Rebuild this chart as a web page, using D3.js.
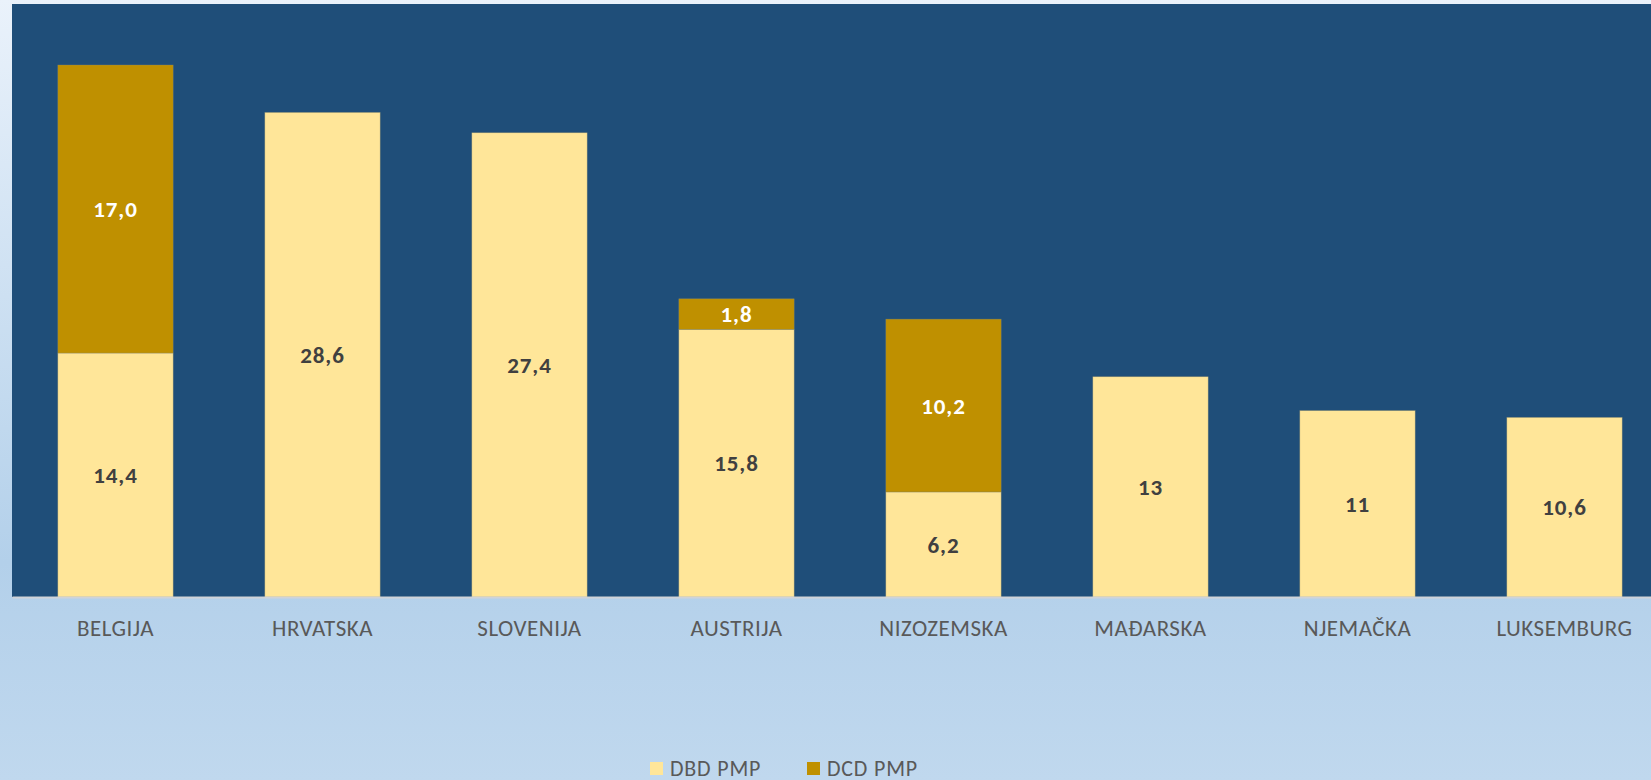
<!DOCTYPE html>
<html>
<head>
<meta charset="utf-8">
<script src="https://cdn.jsdelivr.net/npm/d3@7"></script>
<style>
  html, body { margin: 0; padding: 0; overflow: hidden; }
  svg { display: block; }
</style>
</head>
<body>
<div class="chart"></div>
<script>
// data
let categories = ["BELGIJA", "HRVATSKA", "SLOVENIJA", "AUSTRIJA", "NIZOZEMSKA", "MAĐARSKA", "NJEMAČKA", "LUKSEMBURG"]
let dbdValues = [14.4, 28.6, 27.4, 15.8, 6.2, 13, 11, 10.6]
let dcdValues = [17.0, 0, 0, 1.8, 10.2, 0, 0, 0]
let dbdLabels = ["14,4", "28,6", "27,4", "15,8", "6,2", "13", "11", "10,6"]
let dcdLabels = ["17,0", "", "", "1,8", "10,2", "", "", ""]
let seriesNames = ["DBD PMP", "DCD PMP"]
let seriesColors = ["#FFE699", "#BF9000"]

let W = 1651, H = 780
let plot = { left: 12, top: 4, bottom: 597, right: 1668 }
let font = "Calibri, Carlito, Lato, sans-serif"

let svg = d3.select(".chart")
    .append("svg")
    .attr("width", W)
    .attr("height", H)

// background gradient
let defs = svg.append("defs")
let grad = defs.append("linearGradient")
    .attr("id", "bg")
    .attr("x1", 0).attr("y1", 0).attr("x2", 0).attr("y2", 1)
grad.append("stop").attr("offset", "0%").attr("stop-color", "#eaf2fb")
grad.append("stop").attr("offset", "72%").attr("stop-color", "#b3d0ea")
grad.append("stop").attr("offset", "100%").attr("stop-color", "#c0d8ee")

svg.append("rect")
    .attr("width", W)
    .attr("height", H)
    .attr("fill", "url(#bg)")

// plot area
svg.append("rect")
    .attr("x", plot.left)
    .attr("y", plot.top)
    .attr("width", plot.right - plot.left)
    .attr("height", plot.bottom - plot.top)
    .attr("fill", "#1F4E79")

//scales
let x = d3.scaleBand()
    .domain(categories)
    .range([plot.left, plot.right])
    .paddingInner(0.443)
    .paddingOuter(0.2215)

let y = d3.scaleLinear()
    .domain([0, 35])
    .range([plot.bottom, plot.top])

let rows = categories.map((c, i) => ({
    cat: c, dbd: dbdValues[i], dcd: dcdValues[i],
    dbdLabel: dbdLabels[i], dcdLabel: dcdLabels[i]
}))

let stack = d3.stack().keys(["dbd", "dcd"])(rows)

let layers = svg.append("g")
    .selectAll("g")
    .data(stack)
    .join("g")
    .attr("fill", (d, i) => seriesColors[i])

layers.selectAll("rect")
    .data(d => d.filter(s => s[1] > s[0]))
    .join("rect")
    .attr("x", d => x(d.data.cat))
    .attr("y", d => y(d[1]))
    .attr("width", x.bandwidth())
    .attr("height", d => y(d[0]) - y(d[1]))
    .attr("stroke", "#8a8a6a")
    .attr("stroke-width", 0.6)
    .attr("stroke-opacity", 0.6)

// value labels
let labelColors = ["#404040", "#ffffff"]
let labelKeys = ["dbdLabel", "dcdLabel"]
layers.each(function (layer, i) {
    d3.select(this).selectAll("text")
        .data(layer.filter(s => s[1] > s[0]))
        .join("text")
        .attr("x", d => x(d.data.cat) + x.bandwidth() / 2)
        .attr("y", d => (y(d[0]) + y(d[1])) / 2)
        .attr("dy", "0.36em")
        .attr("text-anchor", "middle")
        .attr("font-family", font)
        .attr("font-weight", "bold")
        .attr("font-size", "23px")
        .attr("letter-spacing", "0.9px")
        .attr("fill", labelColors[i])
        .text(d => d.data[labelKeys[i]])
})

// x axis
let xAxis = d3.axisBottom(x).tickSize(0).tickPadding(0)
let gx = svg.append("g")
    .attr("transform", "translate(0," + plot.bottom + ")")
    .call(xAxis)
gx.select(".domain")
    .attr("stroke", "#d0d3d8")
    .attr("stroke-width", 2)
gx.selectAll("text")
    .attr("y", 39)
    .attr("dy", 0)
    .attr("font-family", font)
    .attr("font-size", "23px")
    .attr("letter-spacing", "0.5px")
    .attr("fill", "#595959")

// legend
let legendX = [650, 807]
let legend = svg.append("g")
    .selectAll("g")
    .data(seriesNames)
    .join("g")
    .attr("transform", (d, i) => "translate(" + legendX[i] + ",762)")
legend.append("rect")
    .attr("width", 13)
    .attr("height", 13)
    .attr("fill", (d, i) => seriesColors[i])
legend.append("text")
    .attr("x", 20)
    .attr("y", 13.5)
    .attr("font-family", font)
    .attr("font-size", "22px")
    .attr("letter-spacing", "0.8px")
    .attr("fill", "#595959")
    .text(d => d)
</script>
</body>
</html>
